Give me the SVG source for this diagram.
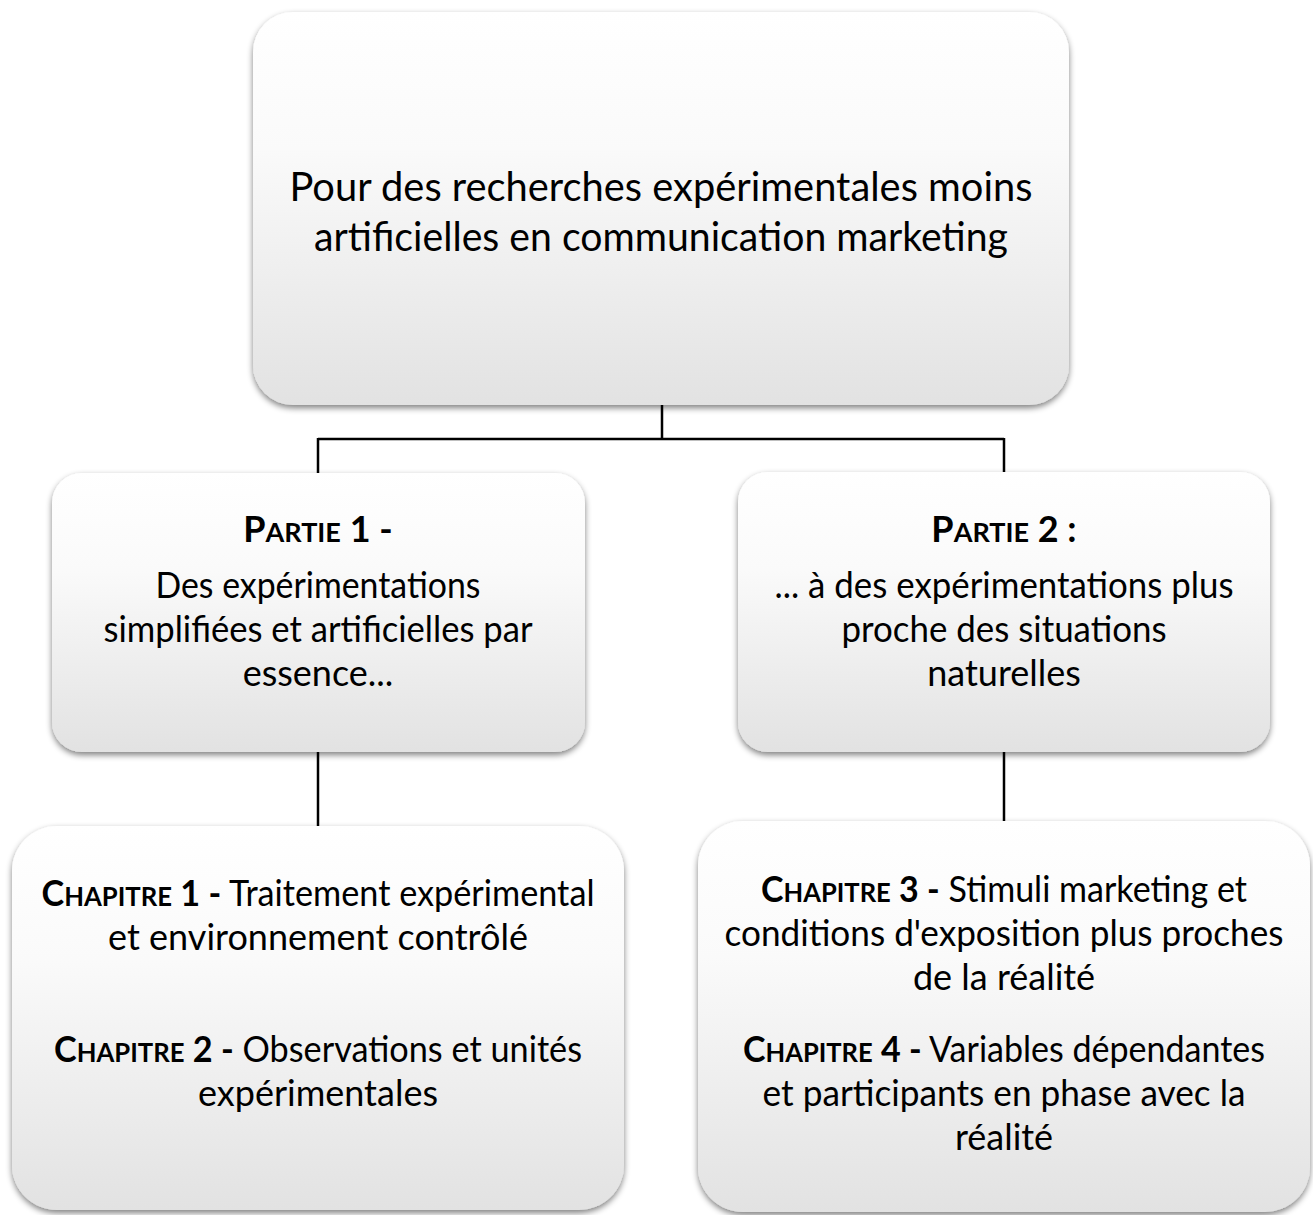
<svg xmlns="http://www.w3.org/2000/svg" width="1313" height="1215" viewBox="0 0 1313 1215">
  <style>
    .box { stroke: none; filter: url(#shadow); }
    .t { font-family: Lato, "Open Sans", "Liberation Sans", sans-serif; fill: #000; text-anchor: middle; }
    .big { font-size: 40px; }
    .mid { font-size: 36px; }
    .b { font-weight: bold; }
    .sc { font-size: 27px; }
    .conn { stroke: #000; stroke-width: 2.5; fill: none; }
  </style>
  <defs>
    <linearGradient id="g" x1="0" y1="0" x2="0" y2="1">
      <stop offset="0" stop-color="#ffffff"/>
      <stop offset="0.35" stop-color="#fafafa"/>
      <stop offset="1" stop-color="#e2e2e2"/>
    </linearGradient>
    <filter id="shadow" x="-5%" y="-5%" width="110%" height="115%">
      <feGaussianBlur in="SourceAlpha" stdDeviation="3"/>
      <feOffset dx="0" dy="3" result="o"/>
      <feComponentTransfer><feFuncA type="linear" slope="0.5"/></feComponentTransfer>
      <feMerge><feMergeNode/><feMergeNode in="SourceGraphic"/></feMerge>
    </filter>
  </defs>
  <rect width="1313" height="1215" fill="#ffffff"/>

  <g id="connectors">
    <path class="conn" d="M662 405 V439 M318 439 H1004 M318 438 V474 M1004 438 V474"/>
    <path class="conn" d="M318 752 V827"/>
    <path class="conn" d="M1004 752 V822"/>
  </g>

  <g id="node-main">
    <rect class="box" x="253" y="12" width="816" height="393" rx="40" fill="url(#g)"/>
    <text class="t big" x="661" y="201" textLength="743" lengthAdjust="spacingAndGlyphs">Pour des recherches expérimentales moins</text>
    <text class="t big" x="661" y="251" textLength="694" lengthAdjust="spacingAndGlyphs">artificielles en communication marketing</text>
  </g>

  <g id="node-partie1">
    <rect class="box" x="52" y="473" width="533" height="279" rx="30" fill="url(#g)"/>
    <text class="t mid b" x="318" y="542">P<tspan class="sc">ARTIE</tspan> 1 -</text>
    <text class="t mid" x="318" y="598" textLength="325" lengthAdjust="spacingAndGlyphs">Des expérimentations</text>
    <text class="t mid" x="318" y="642" textLength="429" lengthAdjust="spacingAndGlyphs">simplifiées et artificielles par</text>
    <text class="t mid" x="318" y="686">essence...</text>
  </g>

  <g id="node-partie2">
    <rect class="box" x="738" y="472" width="532" height="280" rx="30" fill="url(#g)"/>
    <text class="t mid b" x="1004" y="542">P<tspan class="sc">ARTIE</tspan> 2 :</text>
    <text class="t mid" x="1004" y="598" textLength="459" lengthAdjust="spacingAndGlyphs">... à des expérimentations plus</text>
    <text class="t mid" x="1004" y="642" textLength="325" lengthAdjust="spacingAndGlyphs">proche des situations</text>
    <text class="t mid" x="1004" y="686">naturelles</text>
  </g>

  <g id="node-chapitres12">
    <rect class="box" x="12" y="826" width="612" height="384" rx="45" fill="url(#g)"/>
    <text class="t mid" x="318" y="906" textLength="553" lengthAdjust="spacingAndGlyphs"><tspan class="b">C<tspan class="sc">HAPITRE</tspan> 1 -</tspan> Traitement expérimental</text>
    <text class="t mid" x="318" y="950">et environnement contrôlé</text>
    <text class="t mid" x="318" y="1062" textLength="528" lengthAdjust="spacingAndGlyphs"><tspan class="b">C<tspan class="sc">HAPITRE</tspan> 2 -</tspan> Observations et unités</text>
    <text class="t mid" x="318" y="1106">expérimentales</text>
  </g>

  <g id="node-chapitres34">
    <rect class="box" x="698" y="821" width="612" height="391" rx="45" fill="url(#g)"/>
    <text class="t mid" x="1004" y="902" textLength="486" lengthAdjust="spacingAndGlyphs"><tspan class="b">C<tspan class="sc">HAPITRE</tspan> 3 -</tspan> Stimuli marketing et</text>
    <text class="t mid" x="1004" y="946" textLength="559" lengthAdjust="spacingAndGlyphs">conditions d'exposition plus proches</text>
    <text class="t mid" x="1004" y="990">de la réalité</text>
    <text class="t mid" x="1004" y="1062" textLength="522" lengthAdjust="spacingAndGlyphs"><tspan class="b">C<tspan class="sc">HAPITRE</tspan> 4 -</tspan> Variables dépendantes</text>
    <text class="t mid" x="1004" y="1106" textLength="483" lengthAdjust="spacingAndGlyphs">et participants en phase avec la</text>
    <text class="t mid" x="1004" y="1150">réalité</text>
  </g>
</svg>
